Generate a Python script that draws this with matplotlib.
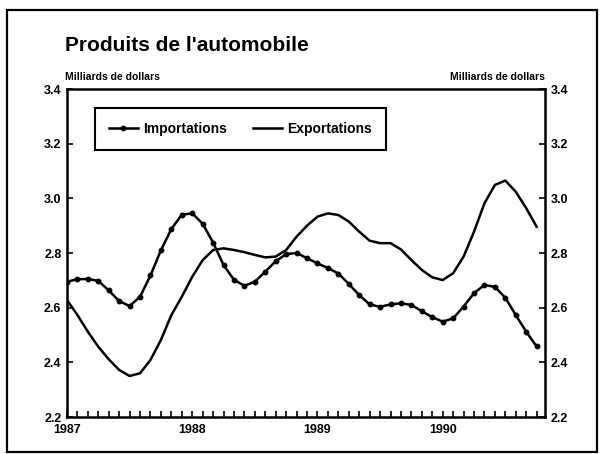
import matplotlib
matplotlib.use('Agg')
import matplotlib.pyplot as plt
import numpy as np
from matplotlib.patches import Rectangle

plt.rcParams['font.family'] = ['Liberation Sans', 'DejaVu Sans']
plt.rcParams['font.weight'] = 'bold'

# Monthly values, Jan 1987 - Oct 1990 (milliards de dollars)
importations = [
    2.695, 2.704, 2.705, 2.698, 2.663, 2.624, 2.606, 2.640, 2.718, 2.810,
    2.888, 2.940, 2.945, 2.907, 2.838, 2.756, 2.702, 2.680, 2.695, 2.732,
    2.770, 2.796, 2.800, 2.781, 2.762, 2.745, 2.725, 2.687, 2.646, 2.612,
    2.603, 2.612, 2.616, 2.610, 2.587, 2.565, 2.549, 2.561, 2.604, 2.653,
    2.683, 2.676, 2.636, 2.573, 2.512, 2.458,
]
exportations = [
    2.628, 2.573, 2.512, 2.457, 2.411, 2.372, 2.350, 2.360, 2.409, 2.482,
    2.573, 2.640, 2.713, 2.774, 2.811, 2.817, 2.811, 2.803, 2.793, 2.784,
    2.787, 2.811, 2.860, 2.900, 2.933, 2.945, 2.939, 2.915, 2.878, 2.845,
    2.836, 2.836, 2.813, 2.774, 2.738, 2.711, 2.701, 2.726, 2.787, 2.878,
    2.982, 3.049, 3.065, 3.024, 2.964, 2.896,
]
years = ['1987', '1988', '1989', '1990']
y_ticks = [2.2, 2.4, 2.6, 2.8, 3.0, 3.2, 3.4]

months = np.arange(len(importations))

W, H = 600, 454
fig = plt.figure(figsize=(6, 4.54), dpi=100)

# outer frame
fig.patches.append(Rectangle((7 / W, 2 / H), 590 / W, 442 / H,
                             transform=fig.transFigure, fill=False,
                             edgecolor='black', linewidth=1.6))

ax = fig.add_axes([67 / W, (H - 417) / H, 478 / W, 328 / H])

ax.plot(months, importations, color='black', linewidth=1.8,
        marker='o', markersize=3.2, label='Importations')
ax.plot(months, exportations, color='black', linewidth=1.8,
        label='Exportations')

ax.set_xlim(0, 45.8)
ax.set_ylim(2.2, 3.4)

ax.set_xticks(np.arange(0, 48, 12))
ax.set_xticklabels(years)
ax.set_xticks(np.arange(1, 46), minor=True)
ax.set_yticks(y_ticks)
ax.set_yticklabels([f'{v:.1f}' for v in y_ticks])

ax.tick_params(axis='x', which='both', direction='in', length=4,
               width=1.2, labelsize=9, pad=5)
ax.tick_params(axis='y', which='both', direction='in', length=4,
               width=1.2, labelsize=9, pad=4,
               left=True, right=True, labelleft=True, labelright=True)

for sp in ax.spines.values():
    sp.set_linewidth(1.8)

leg = ax.legend(loc='upper left', bbox_to_anchor=(0.0586, 0.942),
                borderaxespad=0, ncol=2, fontsize=10, frameon=True,
                fancybox=False, edgecolor='black', framealpha=1,
                handlelength=2.1, handletextpad=0.35, columnspacing=1.9,
                borderpad=1.0, numpoints=1)
leg.get_frame().set_linewidth(1.5)

fig.text(65 / W, 1 - 51 / H, "Produits de l'automobile", fontsize=15,
         fontweight='bold', ha='left', va='baseline')
fig.text(65 / W, 1 - 80 / H, 'Milliards de dollars', fontsize=7.5,
         ha='left', va='baseline')
fig.text(545 / W, 1 - 80 / H, 'Milliards de dollars', fontsize=7.5,
         ha='right', va='baseline')

fig.savefig('out.png', dpi=100)
